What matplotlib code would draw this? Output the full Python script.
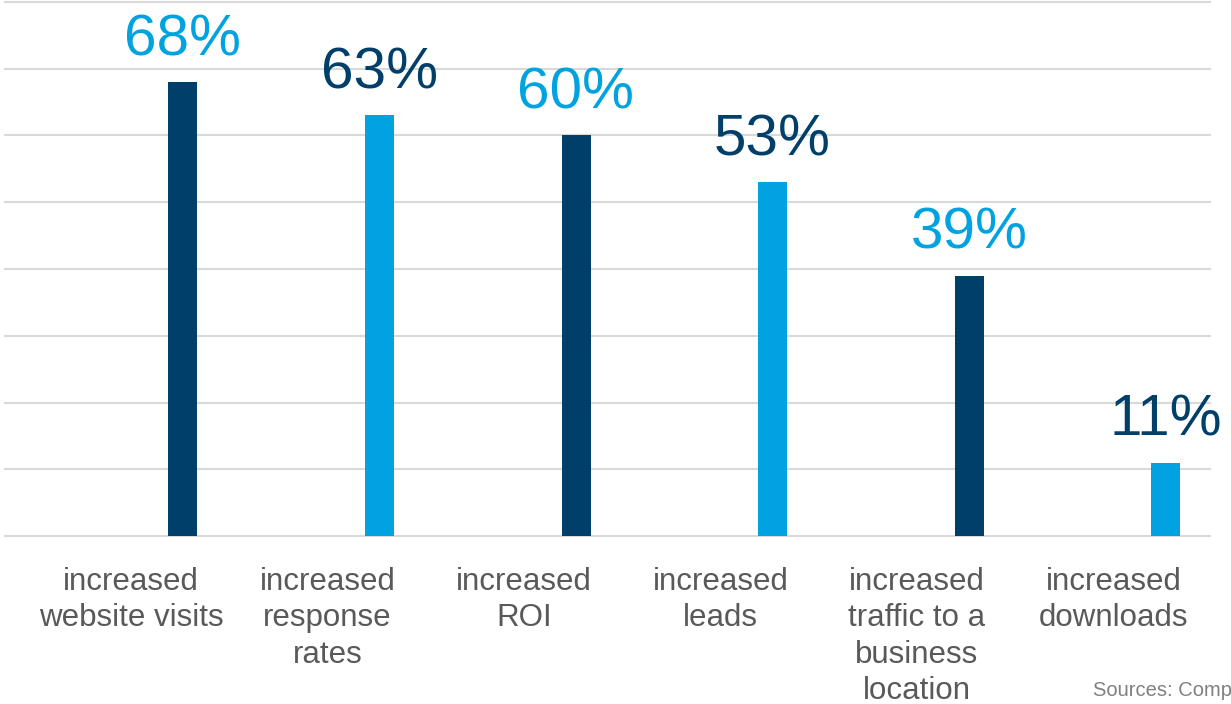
import matplotlib
matplotlib.use("Agg")
import matplotlib.pyplot as plt
import numpy as np

categories = ["increased\nwebsite visits", "increased\nresponse\nrates", "increased\nROI",
              "increased\nleads", "increased\ntraffic to a\nbusiness\nlocation", "increased\ndownloads"]
values = [68, 63, 60, 53, 39, 11]
value_labels = ["68%", "63%", "60%", "53%", "39%", "11%"]

DARK = "#003F6A"
LIGHT = "#00A3E0"
bar_colors = [DARK, LIGHT, DARK, LIGHT, DARK, LIGHT]
label_colors = [LIGHT, DARK, LIGHT, DARK, LIGHT, DARK]

plt.rcParams['font.family'] = ['Liberation Sans', 'DejaVu Sans']

fig = plt.figure(figsize=(12.31, 7.04), dpi=100)
ax = fig.add_axes([5/1231, 1 - 536/704, (1210 - 5)/1231, (536 - 2)/704])

x = np.arange(len(categories))
offset = 52/196.5
bw = 29/196.5
ax.bar(x + offset, values, width=bw, color=bar_colors, zorder=3)

for xi, v, lab, c in zip(x, values, value_labels, label_colors):
    ax.text(xi + offset, v + 4, lab, ha='center', va='baseline', fontsize=42, color=c, zorder=4)

ax.set_xlim((5 - 131)/196.5, (1210 - 131)/196.5)
ax.set_ylim(0, 80)
ax.set_yticks(np.arange(0, 81, 10))
ax.yaxis.grid(True, color="#D9D9D9", linewidth=1.5, zorder=0)
for gl in ax.yaxis.get_gridlines():
    gl.set_clip_on(False)
ax.set_axisbelow(True)
ax.tick_params(axis='y', left=False, labelleft=False)
ax.tick_params(axis='x', bottom=False)
ax.set_xticks(x)
ax.set_xticklabels(categories, fontsize=22.5, color="#595959", linespacing=1.27)
ax.tick_params(axis='x', pad=19)
for s in ax.spines.values():
    s.set_visible(False)

fig.text(1093/1231, 1 - 690/704, "Sources: Comp", fontsize=14.5, color="#808080", ha='left', va='center')

fig.savefig("out.png", dpi=100)
